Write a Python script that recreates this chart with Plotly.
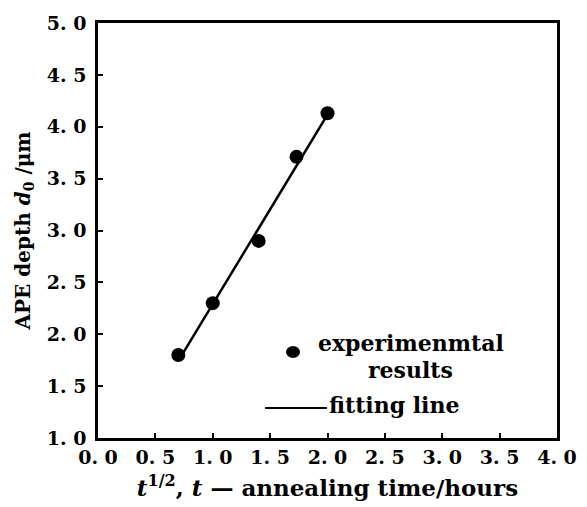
import plotly.graph_objects as go

# experimental results
exp_x = [0.70, 1.00, 1.40, 1.73, 2.00]
exp_y = [1.80, 2.30, 2.90, 3.71, 4.13]
# fitting line end points
fit_x = [0.72, 1.98]
fit_y = [1.78, 4.08]

x_ticks = [0, 0.5, 1.0, 1.5, 2.0, 2.5, 3.0, 3.5, 4.0]
x_ticklabels = ["0. 0", "0. 5", "1. 0", "1. 5", "2. 0", "2. 5", "3. 0", "3. 5", "4. 0"]
y_ticks = [1.0, 1.5, 2.0, 2.5, 3.0, 3.5, 4.0, 4.5, 5.0]
y_ticklabels = ["1. 0", "1. 5", "2. 0", "2. 5", "3. 0", "3. 5", "4. 0", "4. 5", "5. 0"]

FONT = "DejaVu Serif"

def b(s):
    return "<b>" + s + "</b>"

fig = go.Figure()
fig.add_trace(go.Scatter(x=fit_x, y=fit_y, mode="lines",
                         line=dict(color="black", width=2.5), showlegend=False))
fig.add_trace(go.Scatter(x=exp_x, y=exp_y, mode="markers",
                         marker=dict(color="black", size=14), showlegend=False))

fig.update_layout(
    width=587, height=507,
    margin=dict(l=98, r=30, t=23, b=69),
    paper_bgcolor="white", plot_bgcolor="white",
    font=dict(family=FONT, color="black", size=19),
    xaxis=dict(range=[0, 4], tickvals=x_ticks, ticktext=[b(t) for t in x_ticklabels],
               ticks="inside", ticklen=5, tickwidth=1.5, tickcolor="black",
               showline=True, linecolor="black", linewidth=2.5, mirror=True,
               showgrid=False, zeroline=False, automargin=False,
               tickfont=dict(family=FONT, size=19),
               title=dict(text=b("<i>t</i><sup>1/2</sup>, <i>t</i> — annealing time/hours"),
                          font=dict(family=FONT, size=23), standoff=14)),
    yaxis=dict(range=[1, 5], tickvals=y_ticks, ticktext=[b(t) for t in y_ticklabels],
               ticks="inside", ticklen=5, tickwidth=1.5, tickcolor="black",
               showline=True, linecolor="black", linewidth=2.5, mirror=True,
               showgrid=False, zeroline=False, ticklabelstandoff=5, automargin=False,
               tickfont=dict(family=FONT, size=19),
               title=dict(text=b("APE depth <i>d</i><sub>0</sub> /μm"),
                          font=dict(family=FONT, size=20), standoff=11)),
    showlegend=False,
)

# custom legend
LF = 22
fig.add_shape(type="circle", xref="paper", yref="paper",
              x0=(293-7-98)/459, x1=(293+7-98)/459,
              y0=(438-352-6)/415, y1=(438-352+6)/415,
              fillcolor="black", line=dict(color="black", width=0))
fig.add_annotation(xref="paper", yref="paper", x=(411-98)/459, y=(438-343)/415,
                   text=b("experimenmtal"), showarrow=False, xanchor="center", yanchor="middle",
                   font=dict(family=FONT, size=LF))
fig.add_annotation(xref="paper", yref="paper", x=(410-98)/459, y=(438-370)/415,
                   text=b("results"), showarrow=False, xanchor="center", yanchor="middle",
                   font=dict(family=FONT, size=LF))
fig.add_shape(type="line", xref="paper", yref="paper",
              x0=(265-98)/459, x1=(327-98)/459,
              y0=(438-408)/415, y1=(438-408)/415,
              line=dict(color="black", width=2))
fig.add_annotation(xref="paper", yref="paper", x=(327-98)/459, y=(438-405)/415,
                   text=b("fitting line"), showarrow=False, xanchor="left", yanchor="middle",
                   font=dict(family=FONT, size=LF))

fig.write_html("out.html")
